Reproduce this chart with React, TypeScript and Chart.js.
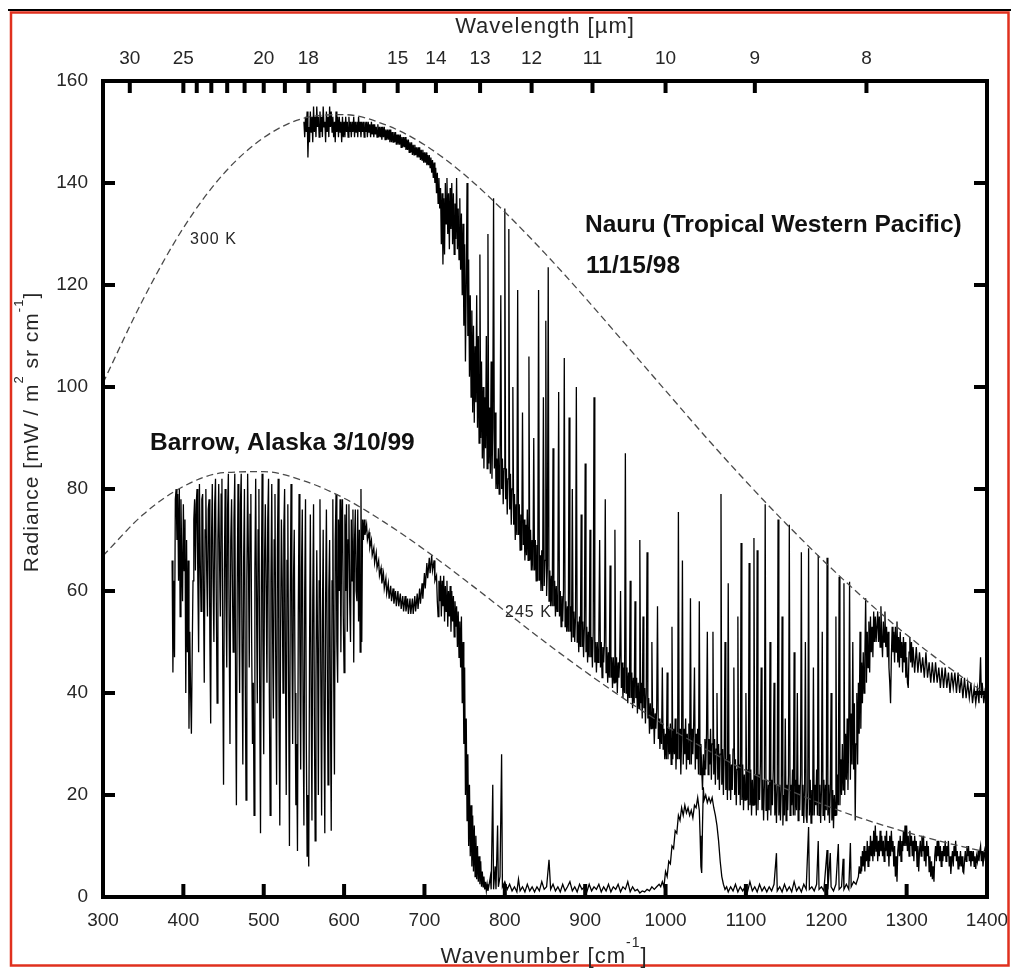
import React, { useEffect, useRef } from "react";
import { Chart, registerables } from "chart.js";

Chart.register(...registerables);

// ---------------- data ----------------
const xTickValues = [300, 400, 500, 600, 700, 800, 900, 1000, 1100, 1200, 1300, 1400];
const yTickValues = [0, 20, 40, 60, 80, 100, 120, 140, 160];
const wavelengthTicks = [30, 25, 24, 23, 22, 21, 20, 19, 18, 17, 16, 15, 14, 13, 12, 11, 10, 9, 8];
const wavelengthLabels = [30, 25, 20, 18, 15, 14, 13, 12, 11, 10, 9, 8];

const planckWavenumbers = [300, 350, 400, 450, 500, 550, 600, 650, 700, 750, 800, 850, 900, 950, 1000, 1050, 1100, 1150, 1200, 1250, 1300, 1350, 1400];
const planck300K = [100.8, 117.2, 131.2, 141.8, 148.9, 152.7, 153.4, 151.5, 147.5, 141.6, 134.3, 126.2, 117.5, 108.4, 99.3, 90.2, 81.5, 73.2, 65.4, 58.1, 51.4, 45.3, 39.7];
const planck245K = [66.9, 75.0, 80.5, 83.2, 83.4, 81.6, 78.2, 73.5, 68.1, 62.2, 56.1, 50.0, 44.2, 38.7, 33.6, 29.0, 24.8, 21.2, 17.9, 15.1, 12.7, 10.6, 8.8];

// Nauru (Tropical Western Pacific) 11/15/98 : [wavenumber, radiance]
const nauruSpectrum: [number, number][] = [
  [550,152],[551,149],[552,153],[553,150],[554,154],[555,145],[556,151],[557,148],[558,154],[559,150],[560,153],[561,148],[562,155],[563,150],[564,153],[565,149],[566,155],[567,151],[568,153],[569,149],[570,154],[571,150],[572,153],[573,149],[574,155],[575,151],[576,152],[577,148],[578,154],[579,150],[580,153],[581,149],[582,155],[583,151],[584,154],[585,150],[586,153],[587,149],[588,152],[589,148],[590,154],[591,150],[592,153],[593,149],[594,153],[595,150],[596,152],[597,148],[598,153],[599,149],
  [600,152],[601,149],[602,153],[603,150],[604,152],[605,149],[606,153],[607,150],[608,152],[609,149],[610,152],[611,150],[612,153],[613,149],[614,152],[615,150],[616,152],[617,149],[618,153],[619,150],[620,152],[621,149],[622,152],[623,150],[624,152],[625,149],[626,152],[627,150],[628,152],[629,149],[630,152],[631,150],[632,151.5],[633,149],[634,152],[635,149.5],[636,151.5],[637,149],[638,151.5],[639,149.5],[640,151],[641,149],[642,151.5],[643,149],[644,151],[645,149],[646,151],[647,148.5],[648,151],[649,149],
  [650,151],[651,148.5],[652,150.5],[653,148.5],[654,150.5],[655,148.5],[656,150.5],[657,148],[658,150.5],[659,148],[660,150],[661,148],[662,150],[663,148],[664,150],[665,147.5],[666,149.5],[667,147.5],[668,149.5],[669,147.5],[670,149.5],[671,147],[672,149],[673,147],[674,149],[675,147],[676,149],[677,146.5],[678,148.5],[679,146.5],[680,148.5],[681,146],[682,148],[683,146],[684,148],[685,145.5],[686,147.5],[687,145.5],[688,147.5],[689,145.5],[690,147],[691,145],[692,147],[693,145],[694,147],[695,144.5],[696,146.5],[697,144.5],[698,146.5],[699,144],
  [700,146],[701,144],[702,146],[703,143.5],[704,145.5],[705,143.5],[706,145.5],[707,143],[708,145],[709,142],[710,144.5],[711,141],[712,144],[713,140],[714,143],[715,138],[716,142],[717,136],[718,141],[719,135],
  [720,139],[721,128],[722,138],[723,124],[724,137],[725,126],[726,140],[727,132],[728,141],[729,130],[730,138],[731,127],[732,139],[733,131],[734,140],[735,128],[736,138],[737,126],[738,136],[739,129],[740,141],[741,127],[742,135],[743,125],[744,137],[745,123],[746,134],[747,118],[748,132],[749,112],[750,128],[751,105],[752,120],[753,140],[754,110],[755,125],[756,102],[757,118],[758,98],[759,115],[760,95],[761,112],[762,93],[763,108],[764,97],[765,118],[766,92],[767,110],[768,89],[769,126],[770,90],[771,105],[772,86],[773,100],[774,84],[775,98],[776,88],[777,110],[778,84],[779,130],[780,85],[781,96],[782,83],[783,105],[784,82],[785,92],[786,137],[787,84],[788,95],[789,80],
  [790,86],[791,80],[792,88],[793,79],[794,84],[795,118],[796,80],[797,86],[798,77],[799,84],[800,135],
  [801,78],[802,84],[803,75],[804,82],[805,131],[806,76],[807,83],[808,73],[809,80],[810,100],
  [811,73],[812,79],[813,70],[814,77],[815,71],[816,119],[817,71],[818,77],[819,68],[820,75],
  [821,68],[822,95],[823,69],[824,74],[825,66],[826,73],[827,67],[828,76],[829,66],[830,106],
  [831,66],[832,72],[833,64],[834,70],[835,64],[836,90],[837,64],[838,70],[839,62],[840,69],
  [841,62],[842,119],[843,62],[844,67],[845,60],[846,68],[847,60],[848,98],[849,61],[850,66],
  [851,113],[852,59],[853,65],[854,123.5],[855,58],[856,64],[857,57],[858,63],[859,57],[860,88],
  [861,57],[862,62],[863,55],[864,61],[865,56],[866,62],[867,99],[868,55],[869,60],[870,53],
  [871,59],[872,54],[873,60],[874,105.7],[875,53],[876,58],[877,52],[878,57],[879,52],[880,94],
  [881,52],[882,57],[883,50],[884,80],[885,51],[886,56],[887,50],[888,55],[889,100],[890,50],
  [891,54],[892,48],[893,55],[894,49],[895,75],[896,49],[897,54],[898,47],[899,53],[900,85],
  [901,48],[902,53],[903,46],[904,52],[905,47],[906,72],[907,47],[908,51],[909,45],[910,52],
  [911,98],[912,46],[913,50],[914,44],[915,50],[916,46],[917,51],[918,70],[919,45],[920,50],
  [921,43],[922,49],[923,46],[924,50],[925,78],[926,44],[927,49],[928,42],[929,48],[930,43],
  [931,65],[932,43],[933,47],[934,41],[935,47],[936,42],[937,72],[938,42],[939,47],[940,40],
  [941,46],[942,43],[943,47],[944,60],[945,41],[946,46],[947,39],[948,45],[949,40],[950,87],
  [951,40],[952,45],[953,38],[954,44],[955,39],[956,62],[957,39],[958,44],[959,37],[960,43],
  [961,38],[962,58],[963,39],[964,43],[965,36],[966,42],[967,37],[968,70],[969,38],[970,42],
  [971,35],[972,55],[973,37],[974,41],[975,34],[976,40],[977,67.6],[978,35],[979,39],[980,32],
  [981,38],[982,33],[983,50],[984,33],[985,37],[986,30],[987,36],[988,33],[989,37],[990,57],
  [991,31],[992,35],[993,29],[994,34],[995,30],[996,45],[997,29],[998,33],[999,27],
  [1000,32],[1001,27],[1002,44],[1003,27],[1004,33],[1005,28],[1006,34],[1007,26],[1008,53],[1009,27],
  [1010,33],[1011,28],[1012,35],[1013,25],[1014,32],[1015,27],[1016,75.5],[1017,27],[1018,33],[1019,24],
  [1020,31],[1021,66],[1022,26],[1023,33],[1024,28],[1025,35],[1026,25],[1027,32],[1028,27],[1029,34],
  [1030,26],[1031,58.6],[1032,26],[1033,33],[1034,28],[1035,34],[1036,45],[1037,25],[1038,32],[1039,27],
  [1040,33],[1041,24],[1042,58],[1043,24],[1044,30],[1045,25],[1046,21],[1047,28],[1048,24],[1049,31],
  [1050,25],[1051,32],[1052,52],[1053,24],[1054,31],[1055,26],[1056,33],[1057,23],[1058,30],[1059,52],
  [1060,24],[1061,31],[1062,22],[1063,29],[1064,40],[1065,23],[1066,30],[1067,21],[1068,28],[1069,79],
  [1070,22],[1071,29],[1072,20],[1073,28],[1074,50],[1075,21],[1076,27],[1077,19],[1078,61.5],[1079,21],
  [1080,28],[1081,19],[1082,26],[1083,21],[1084,29],[1085,45],[1086,20],[1087,27],[1088,18],[1089,25],
  [1090,55],[1091,20],[1092,26],[1093,18],[1094,69.4],[1095,19],[1096,26],[1097,17],[1098,24],[1099,19],
  [1100,40],[1101,19],[1102,25],[1103,17],[1104,65.5],[1105,18],[1106,25],[1107,16],[1108,23],[1109,18],
  [1110,70.4],[1111,18],[1112,24],[1113,16],[1114,68],[1115,17],[1116,24],[1117,19],[1118,26],[1119,45],
  [1120,17],[1121,23],[1122,15],[1123,22],[1124,77],[1125,17],[1126,23],[1127,15],[1128,22],[1129,17],
  [1130,50],[1131,16],[1132,23],[1133,18],[1134,25],[1135,42],[1136,16],[1137,22],[1138,14.5],[1139,21],
  [1140,74],[1141,16],[1142,22],[1143,15],[1144,21],[1145,55],[1146,14],[1147,20],[1148,16],[1149,35],
  [1150,15],[1151,22],[1152,17],[1153,24],[1154,73],[1155,16],[1156,22],[1157,18],[1158,25],[1159,16],
  [1160,48],[1161,16],[1162,23],[1163,17],[1164,40],[1165,15],[1166,22],[1167,17],[1168,24],[1169,67.6],
  [1170,16],[1171,22],[1172,14.5],[1173,21],[1174,50],[1175,16],[1176,14.5],[1177,21],[1178,68.4],[1179,16],
  [1180,23],[1181,14.5],[1182,21],[1183,16],[1184,45],[1185,16],[1186,22],[1187,18],[1188,25],[1189,16],
  [1190,67],[1191,16],[1192,22],[1193,14.5],[1194,21],[1195,52],[1196,16],[1197,23],[1198,15],[1199,22],
  [1200,17],[1201,66.5],[1202,16],[1203,22],[1204,14.5],[1205,21],[1206,40],[1207,15],[1208,21],[1209,13.5],
  [1210,20],[1211,16],[1212,55],[1213,16],[1214,24],[1215,18],[1216,62.8],[1217,18],[1218,27],[1219,20],
  [1220,30],[1221,21],[1222,61.5],[1223,20],[1224,32],[1225,23],[1226,35],[1227,21],[1228,33],[1229,61.8],
  [1230,23],[1231,36],[1232,26],[1233,50],[1234,25],[1235,38],[1236,15],[1237,30],[1238,40],[1239,26],
  [1240,42],[1241,32],[1242,52],[1243,33],[1244,46],[1245,38],[1246,48],[1247,40],[1248,47],[1249,58.6],
  [1250,42],[1251,52],[1252,45],[1253,54],[1254,44],[1255,55],[1256,48],[1257,53],[1258,47],[1259,56],
  [1260,50],[1261,55],[1262,50],
  [1264,56],[1265,50],[1266,55],[1267,49],[1268,57],[1269,51],[1270,47],[1271,54],[1272,50],[1273,56],[1274,49],[1275,53],[1276,47],[1277,52],[1278,45],[1279,42],[1280,38],[1281,47],[1282,53],[1283,48],[1284,52],[1285,46],[1286,53],[1287,48],[1288,54],[1289,46],[1290,51],[1291,45],[1292,52],[1293,47],[1294,50],[1295,44],[1296,51],[1297,46],[1298,50],[1299,43],[1300,47],[1301,42],[1302,41],[1303,48],[1304,51],[1305,46],[1306,50],[1307,45],[1308,49],
  [1310,44],[1312,49],[1314,44],[1316,48],[1318,44],[1320,47],[1322,43],[1324,48],[1326,43],[1328,46],[1330,42],[1332,46],[1334,42],[1336,46],[1338,42],[1340,45],[1342,41],[1344,45],[1346,41],[1348,45],[1350,41],[1352,44],[1354,40],[1356,44],[1358,41],[1360,44],[1362,40],[1364,44],[1366,40],[1368,43],[1370,39],[1372,43],[1374,39],[1376,42],[1378,39],[1380,42],[1382,38],[1384,41],[1386,38],[1388,41],[1390,38],[1392,47],[1393,39],[1394,42],[1396,38],[1398,41],[1399,38],[1400,40]
];

// Barrow, Alaska 3/10/99 : [wavenumber, radiance]
const barrowSpectrum: [number, number][] = [
  [386,66],[387,44],[388,62],[389,47],[390,78],[391,80],[392,70],[393,79],[394,62],[395,80],[396,55],[397,78],[398,66],[399,58],[400,77],[401,64],[402,74],[403,40],[404,70],[405,48],[406,66],[407,33],[408,52],[409,40],[410,32],[411,48],[412,62],[413,74],[414,78],[415,64],[416,77],[417,80],[418,62],[419,48],[420,81],[421,66],[422,56],[423,78],[424,79],[425,60],[426,42],[427,72],[428,80],[429,64],[430,55],[431,76],[432,78],[433,50],[434,34],[435,70],[436,81],[437,62],[438,50],[439,77],[440,82],[441,58],[442,38],[443,70],[444,81],[445,66],[446,55],[447,79],[448,82],[449,46],[450,22],
  [451,64],[452,80],[453,58],[454,45],[455,76],[456,83],[457,52],[458,30],[459,70],[460,78],[461,62],[462,48],[463,74],[464,83],[465,40],[466,18],[467,60],[468,81],[469,58],[470,40],[471,77],[472,83],[473,48],[474,26],[475,66],[476,80],[477,44],[478,19],[479,62],[480,83],[481,66],[482,45],[483,75],[484,79],[485,50],[486,30],[487,42],[488,16],[489,64],[490,82],[491,58],[492,38],[493,72],[494,80],[495,40],[496,12.5],[497,60],[498,83],[499,50],[500,28],
  [501,66],[502,77],[503,60],[504,42],[505,74],[506,82],[507,40],[508,16],[509,62],[510,81],[511,52],[512,35],[513,70],[514,79],[515,44],[516,22],[517,68],[518,82],[519,38],[520,14],[521,52],[522,74],[523,62],[524,40],[525,72],[526,80],[527,46],[528,20],[529,66],[530,77],[531,40],[532,10],[533,58],[534,81],[535,52],[536,30],[537,62],[538,72],[539,40],[540,18],[541,30],[542,9],[543,55],[544,79],[545,48],[546,25],[547,64],[548,76],[549,36],[550,14],
  [551,60],[552,78],[553,30],[554,8],[555,20],[556,6],[557,48],[558,75],[559,40],[560,15],[561,58],[562,77],[563,36],[564,11],[565,42],[566,68],[567,50],[568,20],[569,62],[570,78],[571,44],[572,16],[573,54],[574,72],[575,36],[576,12.5],[577,58],[578,76],[579,48],[580,22],[581,60],[582,70],[583,38],[584,13],[585,62],[586,78],[587,44],
  [588,24],[589,70],[590,79],[591,50],[592,42],[593,74],[594,60],[595,78],[596,48],[597,72],[598,78],[599,55],[600,44],[601,75],[602,60],[603,77],[604,52],[605,70],[606,77],[607,58],[608,50],[609,74],[610,62],[611,76],[612,46],[613,70],[614,76],[615,60],[616,58],[617,76],[618,54],[619,72],[620,48],[621,80],[622,50],[623,74],[624,70],
  [625,74],[626,71],[628,73],[629,70],[631,71.5],[632,68.5],[634,70],[635,67],[637,68.5],[638,65.5],[640,67.5],[641,64.5],[643,66],[644,63],[646,64.5],[647,61.5],[649,63.5],[650,60.5],[652,62.5],[653,59.5],[655,61.5],[656,58.5],[658,61],[659,58],[661,60.5],[662,57.5],[664,60],[665,57],[667,60],[668,57],[670,59.5],[671,56.5],[673,59],[674,56],[676,59],[677,56],[679,58.5],[680,55.5],[682,58.5],[683,55.5],[685,58.5],[686,55.5],[688,59],[689,56],[691,59.5],[692,56.5],[694,60.5],[695,57.5],[697,61.5],[698,58.5],[700,63.5],[701,60.5],[703,65.5],[704,62.5],[706,66.5],[707,63.5],[709,67],[710,64],[712,66],[713,62],[715,63],[716,58],
  [717,55],[718,62],[719,58],[720,63],[721,55],[722,62],[723,57],[724,63],[725,54],[726,61],[727,56],[728,62],[729,53],[730,60],[731,55],[732,61],[733,52],[734,60],[735,54],[736,59],[737,51],[738,58],[739,53],[740,57],[741,49],[742,56],[743,47],[744,54],
  [745,45],[746,55],[747,38],[748,50],[749,30],[750,45],[751,20],[752,35],[753,15],[754,28],[755,10],[756,22],[757,8],[758,18],[759,6],[760,16],[761,5],[762,14],[763,4],[764,12],[765,3.5],[766,10],[767,3],[768,8],[769,2.5],[770,7],[771,2],[772,5],[773,2],[774,4],[775,1.5],[776,3],[777,1.2],[778,2.5],[779,1.2],[780,2],
  [782,4],[783,1.5],[785,22],[786,1.5],[788,6],[789,1.5],[791,14],[792,2],[794,4],[796,28],[797,2],[800,3],[803,1.5],[806,2.5],[809,1.2],[812,2],[815,1],[817,3.5],[819,1.2],[822,2],[825,1],[828,2.5],[831,1.2],[834,2],[837,1],[840,2],[843,1.2],[846,3],[849,1.5],[852,2],[855,7.3],[857,1.5],[860,2.5],[863,1.2],[866,2],[869,1],[872,2.5],[875,1.2],[878,2],[881,3],[884,1.2],[887,2],[890,1],[893,2.5],[896,1.5],[899,2],
  [902,1],[905,2.5],[908,1.2],[911,2],[914,1.5],[917,2.5],[920,1],[923,2],[926,1.2],[929,2.5],[932,1],[935,2],[938,1.5],[941,2.5],[944,1],[947,2],[950,1.5],[953,3],[956,1],[959,2],[962,1.2],[965,1.5],[968,0.8],[971,1.2],[974,1],[977,1.5],[980,1.2],[983,2],[986,1.5],[989,2],[992,2.5],[994,2],[996,3],[998,2],
  [1000,5],[1002,4],[1004,7],[1006,6.5],[1008,10],[1010,9.5],[1012,13],[1014,12.5],[1016,16],[1018,15],[1020,17.5],[1022,16],[1024,18],[1026,16.5],[1028,17.5],[1030,16],[1032,17],[1034,15.5],[1036,18],[1038,17.5],[1040,19.5],[1042,17],[1043,12],[1044,6],[1045,4.7],[1046,14],[1047,21.5],[1048,19],[1050,20],[1052,18.5],[1054,19.5],[1056,18.5],[1058,19.5],[1060,17.5],[1062,16],[1064,14],[1066,11],[1068,7],[1070,4],[1072,2.5],[1074,1.5],[1076,2],
  [1078,1],[1081,2],[1084,1.2],[1087,2.5],[1090,1],[1093,2],[1096,1.2],[1099,2],[1102,1],[1105,3],[1108,1.2],[1111,2],[1114,1],[1117,2.5],[1120,1.2],[1123,2],[1126,1],[1129,2],[1132,1.2],[1135,2.5],[1138,8.6],[1139,1.2],[1142,2],[1145,1],[1148,2.5],[1151,1.2],[1154,2],[1157,1],[1160,3],[1163,1.2],[1166,2],[1169,1],[1172,2.5],[1175,1.5],[1178,13.7],[1179,1.5],[1182,2],[1185,1.2],[1188,2.5],[1190,11],[1191,1.5],[1194,2],[1197,1.2],
  [1201,9.2],[1202,1.5],[1205,8.6],[1206,2],[1209,1.2],[1212,2.5],[1215,10.4],[1216,1.5],[1219,2],[1221,7.5],[1222,1.5],[1225,2.5],[1228,1.5],[1230,10.6],[1231,2],[1234,3],[1237,2.5],
  [1240,4],[1241,6],[1242,4.7],[1243,8],[1244,5],[1245,9],[1246,6],[1247,10],[1248,5],[1249,9],[1250,7],[1251,11],[1252,6],[1253,10],[1254,7],[1255,12],[1256,8],[1257,11],[1258,7],[1259,13],[1260,8],[1261,14],[1262,9],[1263,12],[1264,7],[1265,11],[1266,8],[1267,13],[1268,9],[1269,12],[1270,8],[1271,11],[1272,7],[1273,12],[1274,9],[1275,13],[1276,8],[1277,11],[1278,6],[1279,12],[1280,8],[1281,13],[1282,9],[1283,11],[1284,6],[1285,10],[1286,4],[1287,8],[1288,3],[1289,9],[1290,11],[1291,8],[1292,12],[1293,7],[1294,11],[1295,9],[1296,13],[1297,10],[1298,14],[1299,10],
  [1300,14],[1301,9],[1302,12],[1303,8],[1304,13],[1305,10],[1306,12],[1307,8],[1308,11],[1309,7],[1310,12],[1311,9],[1312,11],[1313,6],[1314,10],[1315,5],[1316,9],[1317,11],[1318,8],[1319,12],[1320,9],[1321,12],[1322,7],[1323,10],[1324,6],[1325,11],[1326,8],[1327,10],[1328,5],[1329,8],[1330,4],[1331,7],[1332,3.5],[1333,6],[1334,3],[1335,8],[1336,10],[1337,7],[1338,11],[1339,8],[1340,11],[1341,7],[1342,10],[1343,6],[1344,9],[1345,7],[1346,10],[1347,8],[1348,11],[1349,7],
  [1350,10],[1351,8],[1352,11],[1353,6],[1354,8],[1355,4.5],[1356,7],[1357,9],[1358,6],[1359,10],[1360,8],[1361,11],[1362,7],[1363,9],[1364,5.5],[1365,8],[1366,6],[1367,9],[1368,6],[1369,8],[1370,5],[1371,4.7],[1372,7],[1373,9],[1374,7],[1375,10],[1376,8],[1377,10],[1378,7],[1379,9],[1380,6],[1381,9],[1382,7],[1383,9],[1384,6],[1385,8],[1386,5.5],[1387,8],[1388,7],[1389,9],[1390,7],[1391,9],[1392,10],[1393,7],[1394,9],[1395,6],[1396,8],[1397,9],[1398,7],[1399,9],[1400,8]
];

// ---------------- styling ----------------
const FONT = "'Liberation Sans', Arial, Helvetica, sans-serif";
const TEXT_COLOR = "#262626";

type Part = [string, boolean];

function drawRich(ctx: any, parts: Part[], x: number, y: number, size: number, align: "left" | "center", spacing = 0) {
  const base = `${size}px ${FONT}`;
  const supSize = Math.round(size * 0.64);
  const sup = `${supSize}px ${FONT}`;
  ctx.letterSpacing = `${spacing}px`;
  let total = 0;
  for (const [t, s] of parts) {
    ctx.font = s ? sup : base;
    total += ctx.measureText(t).width;
  }
  let cx = align === "center" ? x - total / 2 : x;
  ctx.textAlign = "left";
  ctx.textBaseline = "alphabetic";
  for (const [t, s] of parts) {
    ctx.font = s ? sup : base;
    ctx.fillText(t, cx, s ? y - size * 0.72 : y);
    cx += ctx.measureText(t).width;
  }
  ctx.letterSpacing = "0px";
}

const decorPlugin = {
  id: "decor",
  afterDraw(chart: any) {
    const { ctx, chartArea: a, scales } = chart;
    ctx.save();

    // outer image border
    ctx.strokeStyle = "#000";
    ctx.lineWidth = 2;
    ctx.beginPath();
    ctx.moveTo(8, 10);
    ctx.lineTo(1011, 10);
    ctx.stroke();
    ctx.strokeStyle = "#e0301e";
    ctx.lineWidth = 2.5;
    ctx.strokeRect(11, 12.5, 997.5, 953);

    // frame
    ctx.strokeStyle = "#000";
    ctx.lineWidth = 4;
    ctx.strokeRect(a.left, a.top, a.right - a.left, a.bottom - a.top);

    // inward ticks
    ctx.beginPath();
    const ys = scales.y;
    ys.ticks.forEach((t: any, i: number) => {
      if (t.value <= 0 || t.value >= 160) return;
      const py = ys.getPixelForTick(i);
      ctx.moveTo(a.left, py);
      ctx.lineTo(a.left + 12, py);
      ctx.moveTo(a.right, py);
      ctx.lineTo(a.right - 13, py);
    });
    const xs = scales.x;
    xs.ticks.forEach((t: any, i: number) => {
      if (t.value <= 300 || t.value >= 1400) return;
      const px = xs.getPixelForTick(i);
      ctx.moveTo(px, a.bottom);
      ctx.lineTo(px, a.bottom - 13);
    });
    const x2 = scales.x2;
    x2.ticks.forEach((t: any, i: number) => {
      const px = x2.getPixelForTick(i);
      ctx.moveTo(px, a.top);
      ctx.lineTo(px, a.top + 12);
    });
    ctx.stroke();

    // axis titles
    ctx.fillStyle = TEXT_COLOR;
    drawRich(ctx, [["Wavelength [µm]", false]], 545, 33, 22, "center", 1);
    drawRich(ctx, [["Wavenumber [cm", false], ["-1", true], ["]", false]], 544, 963, 22, "center", 1);
    ctx.save();
    ctx.translate(38, 432);
    ctx.rotate(-Math.PI / 2);
    drawRich(ctx, [["Radiance [mW / m", false], ["2", true], [" sr cm", false], ["-1", true], ["]", false]], 0, 0, 21, "center", 1);
    ctx.restore();

    // annotations
    ctx.fillStyle = "#111";
    ctx.textAlign = "left";
    ctx.textBaseline = "alphabetic";
    ctx.font = `bold 24.5px ${FONT}`;
    ctx.fillText("Nauru (Tropical Western Pacific)", 585, 232);
    ctx.fillText("11/15/98", 586, 273);
    ctx.fillText("Barrow, Alaska 3/10/99", 150, 450);
    ctx.fillStyle = TEXT_COLOR;
    drawRich(ctx, [["300 K", false]], 190, 244, 16, "left", 1);
    drawRich(ctx, [["245 K", false]], 505, 617, 16, "left", 1);

    ctx.restore();
  },
};

export default function App() {
  const ref = useRef<HTMLCanvasElement | null>(null);

  useEffect(() => {
    if (!ref.current) return;
    const tickFont = { family: FONT, size: 19 };
    const chart = new Chart(ref.current, {
      type: "line",
      data: {
        datasets: [
          {
            label: "300 K",
            data: planckWavenumbers.map((x, i) => ({ x, y: planck300K[i] })),
            borderColor: "#4a4a4a",
            borderWidth: 1.3,
            borderDash: [7, 4],
            pointRadius: 0,
            cubicInterpolationMode: "monotone",
          },
          {
            label: "245 K",
            data: planckWavenumbers.map((x, i) => ({ x, y: planck245K[i] })),
            borderColor: "#4a4a4a",
            borderWidth: 1.3,
            borderDash: [7, 4],
            pointRadius: 0,
            cubicInterpolationMode: "monotone",
          },
          {
            label: "Nauru",
            data: nauruSpectrum.map(([x, y]) => ({ x, y })),
            borderColor: "#000",
            borderWidth: 1.3,
            pointRadius: 0,
            tension: 0,
          },
          {
            label: "Barrow",
            data: barrowSpectrum.map(([x, y]) => ({ x, y })),
            borderColor: "#000",
            borderWidth: 1.3,
            pointRadius: 0,
            tension: 0,
          },
        ],
      },
      options: {
        responsive: false,
        animation: false,
        devicePixelRatio: 1,
        layout: { padding: { left: 0, right: 24, top: 0, bottom: 0 } },
        plugins: { legend: { display: false }, tooltip: { enabled: false } },
        scales: {
          x: {
            type: "linear",
            position: "bottom",
            min: 300,
            max: 1400,
            afterBuildTicks: (s: any) => {
              s.ticks = xTickValues.map((v) => ({ value: v }));
            },
            ticks: {
              font: tickFont,
              color: TEXT_COLOR,
              padding: 12,
              autoSkip: false,
              maxRotation: 0,
              callback: (v: any) => String(v),
            },
            grid: { display: false, drawTicks: false },
            border: { display: false },
            afterFit: (s: any) => {
              s.height = 71;
              s.paddingLeft = 0;
              s.paddingRight = 0;
            },
          },
          x2: {
            type: "linear",
            position: "top",
            min: 300,
            max: 1400,
            afterBuildTicks: (s: any) => {
              s.ticks = wavelengthTicks.map((l) => ({ value: 10000 / l }));
            },
            ticks: {
              font: tickFont,
              color: TEXT_COLOR,
              padding: 11,
              autoSkip: false,
              maxRotation: 0,
              callback: (v: any) => {
                const l = Math.round(10000 / Number(v));
                return wavelengthLabels.includes(l) ? String(l) : "";
              },
            },
            grid: { display: false, drawTicks: false },
            border: { display: false },
            afterFit: (s: any) => {
              s.height = 81;
              s.paddingLeft = 0;
              s.paddingRight = 0;
            },
          },
          y: {
            type: "linear",
            position: "left",
            min: 0,
            max: 160,
            afterBuildTicks: (s: any) => {
              s.ticks = yTickValues.map((v) => ({ value: v }));
            },
            ticks: { font: tickFont, color: TEXT_COLOR, padding: 15, callback: (v: any) => String(v) },
            grid: { display: false, drawTicks: false },
            border: { display: false },
            afterFit: (s: any) => {
              s.width = 103;
              s.paddingTop = 0;
              s.paddingBottom = 0;
            },
          },
        },
      },
      plugins: [decorPlugin],
    } as any);
    return () => chart.destroy();
  }, []);

  return (
    <div style={{ position: "absolute", left: 0, top: 0, width: 1011, height: 968, background: "#fff" }}>
      <canvas ref={ref} width={1011} height={968} style={{ width: 1011, height: 968, display: "block" }} />
    </div>
  );
}
